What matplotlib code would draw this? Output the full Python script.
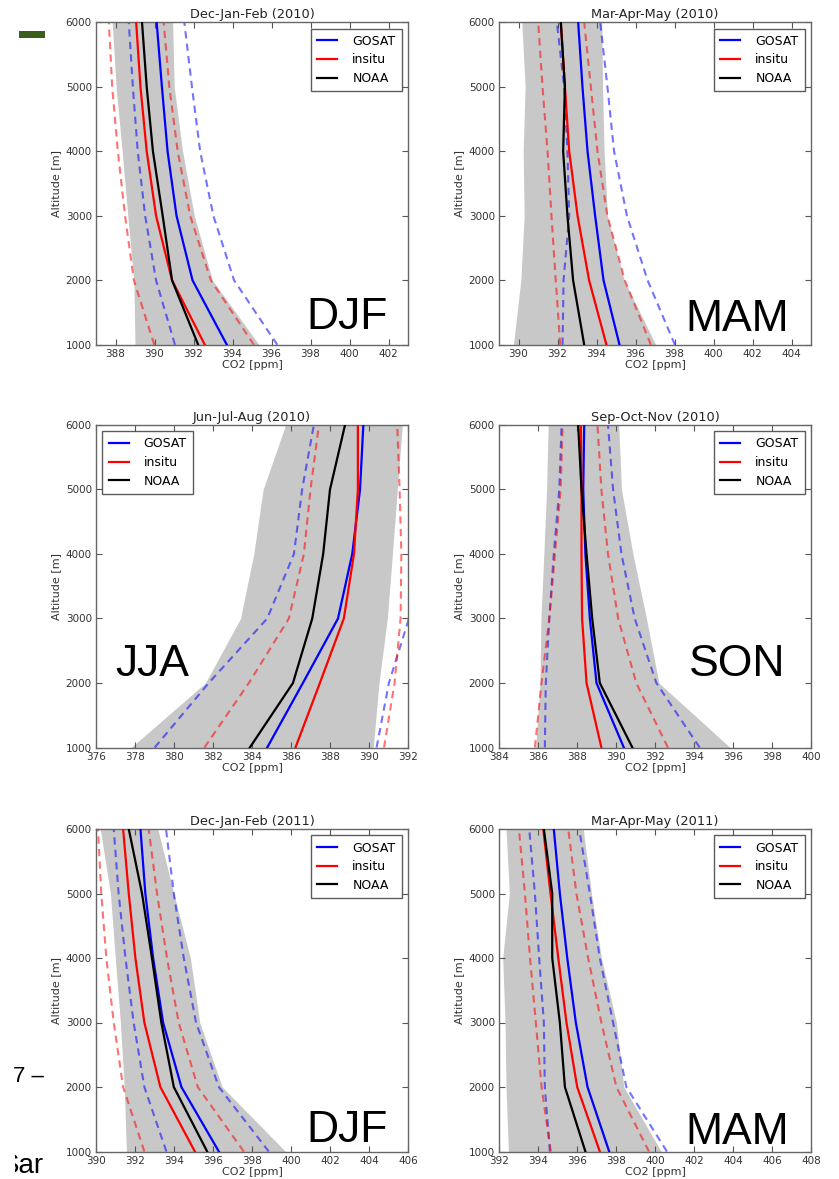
import matplotlib
matplotlib.use("Agg")
import matplotlib.pyplot as plt
from matplotlib.patches import Rectangle
from matplotlib.transforms import Bbox

ALT = [1000, 2000, 3000, 4000, 5000, 6000]

# ---- Dec-Jan-Feb (2010)
DJF10_GOSAT = [393.71, 391.95, 391.13, 390.67, 390.38, 390.11]
DJF10_INSITU = [392.58, 390.90, 390.08, 389.60, 389.28, 389.06]
DJF10_NOAA = [392.24, 390.90, 390.42, 389.92, 389.60, 389.36]
DJF10_GOSAT_LO = [391.05, 390.08, 389.52, 389.14, 388.89, 388.68]
DJF10_GOSAT_HI = [396.30, 394.08, 393.02, 392.34, 391.92, 391.53]
DJF10_INSITU_LO = [389.99, 388.94, 388.49, 388.12, 387.83, 387.66]
DJF10_INSITU_HI = [395.10, 392.89, 391.83, 391.19, 390.76, 390.47]
DJF10_BAND_LO = [389.00, 388.94, 388.63, 388.34, 388.03, 387.83]
DJF10_BAND_HI = [395.36, 392.97, 392.04, 391.44, 391.01, 390.93]

# ---- Mar-Apr-May (2010)
MAM10_GOSAT = [395.18, 394.36, 393.93, 393.54, 393.28, 393.06]
MAM10_INSITU = [394.51, 393.62, 393.03, 392.60, 392.38, 392.17]
MAM10_NOAA = [393.37, 392.80, 392.51, 392.29, 392.38, 392.17]
MAM10_GOSAT_LO = [392.26, 392.31, 392.60, 392.51, 392.34, 391.97]
MAM10_GOSAT_HI = [398.02, 396.62, 395.56, 394.90, 394.56, 394.19]
MAM10_INSITU_LO = [392.14, 391.91, 391.69, 391.49, 391.23, 391.01]
MAM10_INSITU_HI = [396.79, 395.45, 394.56, 394.05, 393.71, 393.37]
MAM10_BAND_LO = [389.74, 390.12, 390.29, 390.24, 390.34, 390.17]
MAM10_BAND_HI = [397.04, 395.42, 394.56, 394.39, 394.31, 394.27]

# ---- Jun-Jul-Aug (2010)
JJA10_GOSAT = [384.78, 386.61, 388.41, 389.14, 389.54, 389.71]
JJA10_INSITU = [386.23, 387.48, 388.71, 389.23, 389.43, 389.43]
JJA10_NOAA = [383.89, 386.10, 387.09, 387.65, 388.00, 388.77]
JJA10_GOSAT_LO = [379.01, 381.78, 384.78, 386.15, 386.57, 387.17]
JJA10_GOSAT_HI = [390.39, 391.02, 392.05, 393.00, 393.50, 394.00]
JJA10_INSITU_LO = [381.56, 383.84, 385.89, 386.66, 387.00, 387.43]
JJA10_INSITU_HI = [390.77, 391.31, 391.62, 391.66, 391.57, 391.45]
JJA10_BAND_LO = [377.80, 381.61, 383.41, 384.09, 384.57, 385.72]
JJA10_BAND_HI = [390.22, 390.51, 390.94, 391.20, 391.45, 391.71]

# ---- Sep-Oct-Nov (2010)
SON10_GOSAT = [390.40, 389.00, 388.66, 388.43, 388.32, 388.37]
SON10_INSITU = [389.25, 388.49, 388.26, 388.23, 388.23, 388.20]
SON10_NOAA = [390.84, 389.17, 388.78, 388.49, 388.23, 388.06]
SON10_GOSAT_LO = [386.35, 386.40, 386.58, 386.81, 387.09, 387.21]
SON10_GOSAT_HI = [394.29, 392.07, 390.96, 390.28, 389.85, 389.59]
SON10_INSITU_LO = [385.84, 386.18, 386.58, 386.87, 387.16, 387.26]
SON10_INSITU_HI = [392.66, 391.04, 390.11, 389.59, 389.25, 389.05]
SON10_BAND_LO = [385.88, 386.10, 386.15, 386.30, 386.44, 386.52]
SON10_BAND_HI = [395.85, 392.20, 391.56, 390.87, 390.28, 390.14]

# ---- Dec-Jan-Feb (2011)
DJF11_GOSAT = [396.30, 394.38, 393.44, 392.93, 392.53, 392.28]
DJF11_INSITU = [395.07, 393.30, 392.48, 392.02, 391.68, 391.39]
DJF11_NOAA = [395.70, 393.99, 393.35, 392.87, 392.36, 391.68]
DJF11_GOSAT_LO = [393.61, 392.48, 391.93, 391.51, 391.16, 390.91]
DJF11_GOSAT_HI = [398.86, 396.30, 395.13, 394.50, 393.99, 393.59]
DJF11_INSITU_LO = [392.48, 391.39, 390.91, 390.53, 390.27, 390.10]
DJF11_INSITU_HI = [397.58, 395.22, 394.24, 393.64, 393.13, 392.70]
DJF11_BAND_LO = [391.56, 391.45, 391.25, 390.99, 390.74, 390.22]
DJF11_BAND_HI = [399.72, 396.47, 395.32, 394.84, 393.99, 393.17]

# ---- Mar-Apr-May (2011)
MAM11_GOSAT = [397.65, 396.54, 395.94, 395.50, 395.12, 394.81]
MAM11_INSITU = [397.17, 396.01, 395.46, 395.04, 394.64, 394.27]
MAM11_NOAA = [396.43, 395.38, 395.12, 394.73, 394.73, 394.30]
MAM11_GOSAT_LO = [394.61, 394.35, 394.30, 394.06, 393.84, 393.55]
MAM11_GOSAT_HI = [400.61, 398.53, 397.85, 397.17, 396.66, 396.11]
MAM11_INSITU_LO = [394.66, 394.18, 393.89, 393.59, 393.33, 393.02]
MAM11_INSITU_HI = [399.69, 398.02, 397.25, 396.57, 395.97, 395.55]
MAM11_BAND_LO = [392.48, 392.36, 392.31, 392.19, 392.53, 392.36]
MAM11_BAND_HI = [400.32, 398.40, 398.02, 397.25, 396.74, 396.32]

TITLES = ["Dec-Jan-Feb (2010)", "Mar-Apr-May (2010)", "Jun-Jul-Aug (2010)",
          "Sep-Oct-Nov (2010)", "Dec-Jan-Feb (2011)", "Mar-Apr-May (2011)"]
SEASONS = ["DJF", "MAM", "JJA", "SON", "DJF", "MAM"]
XLIMS = [(387, 403), (389, 405), (376, 392), (384, 400), (390, 406), (392, 408)]
SERIES_NAMES = ["GOSAT", "insitu", "NOAA"]

PANELS = [
    (DJF10_GOSAT, DJF10_INSITU, DJF10_NOAA, DJF10_GOSAT_LO, DJF10_GOSAT_HI,
     DJF10_INSITU_LO, DJF10_INSITU_HI, DJF10_BAND_LO, DJF10_BAND_HI),
    (MAM10_GOSAT, MAM10_INSITU, MAM10_NOAA, MAM10_GOSAT_LO, MAM10_GOSAT_HI,
     MAM10_INSITU_LO, MAM10_INSITU_HI, MAM10_BAND_LO, MAM10_BAND_HI),
    (JJA10_GOSAT, JJA10_INSITU, JJA10_NOAA, JJA10_GOSAT_LO, JJA10_GOSAT_HI,
     JJA10_INSITU_LO, JJA10_INSITU_HI, JJA10_BAND_LO, JJA10_BAND_HI),
    (SON10_GOSAT, SON10_INSITU, SON10_NOAA, SON10_GOSAT_LO, SON10_GOSAT_HI,
     SON10_INSITU_LO, SON10_INSITU_HI, SON10_BAND_LO, SON10_BAND_HI),
    (DJF11_GOSAT, DJF11_INSITU, DJF11_NOAA, DJF11_GOSAT_LO, DJF11_GOSAT_HI,
     DJF11_INSITU_LO, DJF11_INSITU_HI, DJF11_BAND_LO, DJF11_BAND_HI),
    (MAM11_GOSAT, MAM11_INSITU, MAM11_NOAA, MAM11_GOSAT_LO, MAM11_GOSAT_HI,
     MAM11_INSITU_LO, MAM11_INSITU_HI, MAM11_BAND_LO, MAM11_BAND_HI),
]

W, H = 839, 1179
fig = plt.figure(figsize=(W / 100, H / 100), dpi=100)

# axes geometry in pixels (left, top, width, height)
col_left = [96, 499]
row_top = [22.3, 425, 829]
ax_w, ax_h = 312, 322.5

# season label placement (axes fraction x, y, ha)
season_pos = [(0.934, 0.05, "right"), (0.93, 0.044, "right"),
              (0.062, 0.222, "left"), (0.918, 0.222, "right"),
              (0.934, 0.028, "right"), (0.93, 0.022, "right")]
legend_loc = ["upper right", "upper right", "upper left",
              "upper right", "upper right", "upper right"]

BLUE, RED, BLACK = "#0000ff", "#ff0000", "#000000"
DASH = (0, (3.5, 2.5))

for i, data in enumerate(PANELS):
    r, c = divmod(i, 2)
    left = col_left[c] / W
    bottom = 1 - (row_top[r] + ax_h) / H
    ax = fig.add_axes([left, bottom, ax_w / W, ax_h / H])
    gos, ins, noaa, glo, ghi, ilo, ihi, blo, bhi = data

    ax.fill_betweenx(ALT, blo, bhi, color="#c8c8c8", lw=0, zorder=1)
    ax.plot(glo, ALT, color=BLUE, lw=1.5, ls=DASH, alpha=0.55, zorder=2)
    ax.plot(ghi, ALT, color=BLUE, lw=1.5, ls=DASH, alpha=0.55, zorder=2)
    ax.plot(ilo, ALT, color=RED, lw=1.5, ls=DASH, alpha=0.55, zorder=2)
    ax.plot(ihi, ALT, color=RED, lw=1.5, ls=DASH, alpha=0.55, zorder=2)
    ax.plot(gos, ALT, color=BLUE, lw=1.6, label=SERIES_NAMES[0], zorder=3)
    ax.plot(ins, ALT, color=RED, lw=1.6, label=SERIES_NAMES[1], zorder=3)
    ax.plot(noaa, ALT, color=BLACK, lw=1.6, label=SERIES_NAMES[2], zorder=3)

    ax.set_xlim(*XLIMS[i])
    ax.set_ylim(1000, 6000)
    ax.set_xticks(range(XLIMS[i][0] + 1, XLIMS[i][1] + 1, 2)
                  if XLIMS[i][0] % 2 else range(XLIMS[i][0], XLIMS[i][1] + 1, 2))
    ax.set_yticks(range(1000, 6001, 1000))
    ax.tick_params(direction="in", top=True, right=True, length=4, width=0.8,
                   color="#555555", labelsize=7.5, labelcolor="#333333", pad=3)
    for s in ax.spines.values():
        s.set_color("#666666")
        s.set_linewidth(1.0)
    ax.set_title(TITLES[i], fontsize=9.3, color="#222222", pad=3)
    ax.set_xlabel("CO2 [ppm]", fontsize=8, color="#333333", labelpad=1)
    ax.set_ylabel("Altitude [m]", fontsize=8, color="#333333", labelpad=3)

    leg = ax.legend(loc=legend_loc[i], fontsize=9, frameon=True, fancybox=False,
                    handlelength=1.6, handletextpad=1.2, labelspacing=0.45,
                    borderpad=0.5, borderaxespad=0.5)
    leg.get_frame().set_edgecolor("#333333")
    leg.get_frame().set_linewidth(1.0)

    sx, sy, ha = season_pos[i]
    ax.text(sx, sy, SEASONS[i], transform=ax.transAxes, ha=ha, va="baseline",
            fontsize=32, family="Liberation Sans", color="black", zorder=5)

# slide artifacts around the charts
fig.add_artist(Rectangle((19 / W, 1 - 37.5 / H), 26 / W, 6 / H,
                         transform=fig.transFigure, color="#3b5e1e", lw=0))
fig.text(44 / W, 1 - 1081.5 / H, "7 –", ha="right", va="baseline",
         fontsize=16, family="Liberation Sans", color="black")
t = fig.text(1 / W, 1 - 1173 / H, "Sar", ha="left", va="baseline",
             fontsize=20, family="Liberation Sans", color="black", clip_on=True)
t.set_clip_box(Bbox.from_extents(15, 0, 60, 40))

fig.savefig("out.png", dpi=100)
